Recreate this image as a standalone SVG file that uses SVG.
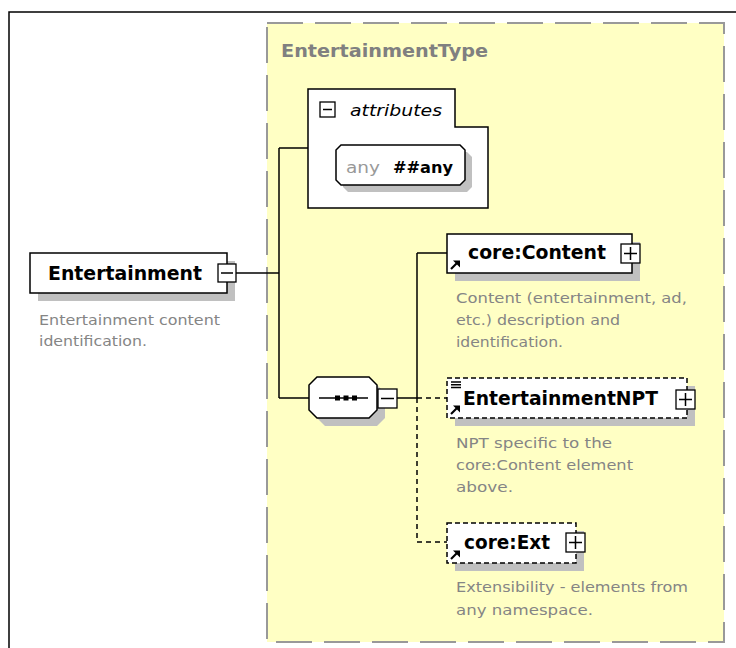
<svg xmlns="http://www.w3.org/2000/svg" width="736" height="648" viewBox="0 0 736 648">
<defs>
<style>
.frame{fill:#fff;stroke:#000;stroke-width:1.5}
.type{fill:#ffffc4;stroke:#999;stroke-width:2;stroke-dasharray:36 12}
.box{fill:#fff;stroke:#000;stroke-width:1.5}
.dbox{fill:#fff;stroke:#000;stroke-width:1.5;stroke-dasharray:5 3}
.shadow{fill:#c0c0c0}
.btn{fill:#fff;stroke:#000;stroke-width:1.3}
.sign{stroke:#000;stroke-width:1.5;fill:none}
.line{stroke:#000;stroke-width:1.5;fill:none}
.dline{stroke:#000;stroke-width:1.5;fill:none;stroke-dasharray:5 4}
.name{font-family:"DejaVu Sans",Verdana,sans-serif;font-weight:bold;font-size:19px;fill:#000}
.tname{font-family:"DejaVu Sans",Verdana,sans-serif;font-weight:bold;font-size:17px;fill:#808080}
.desc{font-family:"DejaVu Sans",Verdana,sans-serif;font-size:14.5px;fill:#858585}
.attr{font-family:"DejaVu Sans",Verdana,sans-serif;font-style:italic;font-size:15px;fill:#000}
.anyl{font-family:"DejaVu Sans",Verdana,sans-serif;font-size:15px;fill:#999}
.anyv{font-family:"DejaVu Sans",Verdana,sans-serif;font-weight:bold;font-size:15px;fill:#000}
</style>
<g id="refArrow">
<path d="M1,9 L7,3" stroke="#000" stroke-width="2.2" fill="none"/>
<polygon points="3,0.5 10,0.5 10,7.5" fill="#000"/>
</g>
</defs>

<rect class="frame" x="9" y="12" width="780" height="700"/>

<g id="EntertainmentType">
<rect class="type" x="267" y="23" width="457" height="619"/>
<text class="tname" x="281" y="57" textLength="207" lengthAdjust="spacingAndGlyphs">EntertainmentType</text>
</g>

<g id="connectors">
<path class="line" d="M236,273 H279"/>
<path class="line" d="M279,148 V398"/>
<path class="line" d="M279,148 H308"/>
<path class="line" d="M279,398 H309"/>
<path class="line" d="M397,398 H417"/>
<path class="line" d="M417,253 V398"/>
<path class="line" d="M417,253 H447"/>
<path class="dline" d="M417,398 H447"/>
<path class="dline" d="M417,398 V542 H447"/>
</g>

<g id="Entertainment">
<rect class="shadow" x="38" y="261" width="197" height="40"/>
<rect class="box" x="30" y="253" width="197" height="40"/>
<text class="name" x="48" y="280" textLength="154" lengthAdjust="spacingAndGlyphs">Entertainment</text>
<rect class="btn" x="218" y="264" width="18" height="18"/>
<path class="sign" d="M221,273 H233"/>
<text class="desc" x="39" y="325" textLength="181" lengthAdjust="spacingAndGlyphs">Entertainment content</text>
<text class="desc" x="39" y="346" textLength="108" lengthAdjust="spacingAndGlyphs">identification.</text>
</g>

<g id="attributes">
<polygon class="box" points="308,89 455,89 455,127 488,127 488,208 308,208"/>
<rect class="btn" x="320" y="102" width="15" height="15"/>
<path class="sign" d="M323,109.5 H332"/>
<text class="attr" x="350" y="116" textLength="92" lengthAdjust="spacingAndGlyphs">attributes</text>
</g>

<g id="anyAttribute">
<polygon class="shadow" points="348,152 467,152 472,157 472,187 467,192 348,192 343,187 343,157"/>
<polygon class="box" points="341,145 460,145 465,150 465,180 460,185 341,185 336,180 336,150"/>
<text class="anyl" x="346" y="173" textLength="34" lengthAdjust="spacingAndGlyphs">any</text>
<text class="anyv" x="393" y="173" textLength="60" lengthAdjust="spacingAndGlyphs">##any</text>
</g>

<g id="sequence">
<polygon class="shadow" points="325,385 377,385 385,393 385,418 377,426 325,426 317,418 317,393"/>
<polygon class="box" points="317,377 369,377 377,385 377,410 369,418 317,418 309,410 309,385"/>
<path class="line" d="M319,398 H368"/>
<rect x="335" y="395.5" width="5" height="5" fill="#000"/>
<rect x="343.5" y="395.5" width="5" height="5" fill="#000"/>
<rect x="352" y="395.5" width="5" height="5" fill="#000"/>
<rect class="btn" x="378" y="389" width="19" height="19"/>
<path class="sign" d="M381,398.5 H394"/>
</g>

<g id="coreContent">
<rect class="shadow" x="455" y="242" width="185" height="39"/>
<rect class="box" x="447" y="234" width="185" height="39"/>
<text class="name" x="468" y="259" textLength="138" lengthAdjust="spacingAndGlyphs">core:Content</text>
<rect class="btn" x="621" y="244" width="19" height="19"/>
<path class="sign" d="M624,253.5 H637 M630.5,247 V260"/>
<use href="#refArrow" x="450" y="260"/>
<text class="desc" x="456" y="303" textLength="231" lengthAdjust="spacingAndGlyphs">Content (entertainment, ad,</text>
<text class="desc" x="456" y="325" textLength="164" lengthAdjust="spacingAndGlyphs">etc.) description and</text>
<text class="desc" x="456" y="347" textLength="107" lengthAdjust="spacingAndGlyphs">identification.</text>
</g>

<g id="EntertainmentNPT">
<rect class="shadow" x="455" y="386" width="240" height="40"/>
<rect class="dbox" x="447" y="378" width="240" height="40"/>
<path class="line" d="M451,382 H461 M451,384.8 H461 M451,387.6 H461" stroke-width="1.2"/>
<text class="name" x="463" y="405" textLength="195" lengthAdjust="spacingAndGlyphs">EntertainmentNPT</text>
<rect class="btn" x="676" y="390" width="19" height="19"/>
<path class="sign" d="M679,399.5 H692 M685.5,393 V406"/>
<use href="#refArrow" x="450" y="405"/>
<text class="desc" x="456" y="448" textLength="156" lengthAdjust="spacingAndGlyphs">NPT specific to the</text>
<text class="desc" x="456" y="470" textLength="177" lengthAdjust="spacingAndGlyphs">core:Content element</text>
<text class="desc" x="456" y="492" textLength="57" lengthAdjust="spacingAndGlyphs">above.</text>
</g>

<g id="coreExt">
<rect class="shadow" x="455" y="531" width="129" height="40"/>
<rect class="dbox" x="447" y="523" width="129" height="40"/>
<text class="name" x="464" y="549" textLength="86" lengthAdjust="spacingAndGlyphs">core:Ext</text>
<rect class="btn" x="566" y="533" width="19" height="19"/>
<path class="sign" d="M569,542.5 H582 M575.5,536 V549"/>
<use href="#refArrow" x="450" y="550"/>
<text class="desc" x="456" y="592" textLength="232" lengthAdjust="spacingAndGlyphs">Extensibility - elements from</text>
<text class="desc" x="456" y="615" textLength="137" lengthAdjust="spacingAndGlyphs">any namespace.</text>
</g>
</svg>
